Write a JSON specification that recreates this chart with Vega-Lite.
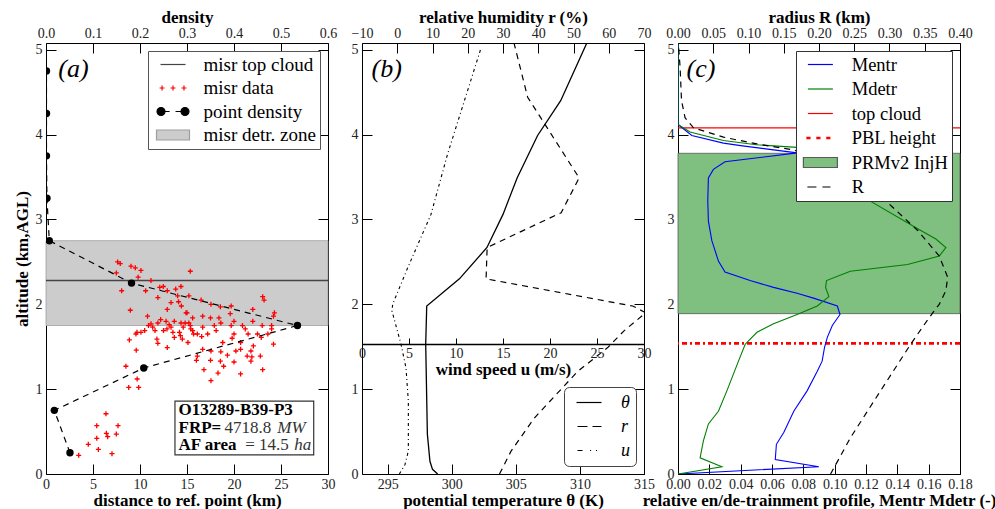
{
  "$schema": "https://vega.github.io/schema/vega-lite/v6.json",
  "background": "white",
  "padding": {"left": 12, "top": 7, "right": 5, "bottom": 5},
  "bounds": "flush",
  "spacing": 34,
  "resolve": {
    "scale": {"shape": "independent", "color": "independent", "fill": "independent", "stroke": "independent"},
    "legend": {"shape": "independent", "fill": "independent", "stroke": "independent"}
  },
  "datasets": {
    "misr": [
      {"d":3.48,"alt":0.22},{"d":4.5,"alt":0.35},{"d":5.4,"alt":0.57},{"d":5.4,"alt":0.42},{"d":5.57,"alt":0.29},{"d":6.38,"alt":0.71},{"d":6.42,"alt":0.48},{"d":6.56,"alt":0.44},{"d":7.02,"alt":0.24},{"d":7.48,"alt":0.47},{"d":7.66,"alt":0.57},
      {"d":7.62,"alt":2.5},{"d":7.9,"alt":2.48},{"d":7.48,"alt":2.37},{"d":8.05,"alt":2.16},{"d":9.04,"alt":2.45},{"d":9.5,"alt":2.43},{"d":10.1,"alt":2.4},{"d":9.8,"alt":2.32},{"d":8.97,"alt":1.93},{"d":10.6,"alt":2.16},{"d":11.17,"alt":2.28},{"d":12.48,"alt":2.21},{"d":12.1,"alt":2.2},{"d":11.9,"alt":2.08},{"d":12.9,"alt":2.16},{"d":13.3,"alt":2.02},{"d":12.9,"alt":1.94},{"d":13.8,"alt":2.18},{"d":14.36,"alt":2.21},{"d":14.0,"alt":2.1},{"d":14.1,"alt":2.03},{"d":14.4,"alt":1.98},{"d":15.35,"alt":2.39},{"d":15.2,"alt":2.1},{"d":14.9,"alt":1.9},{"d":16.5,"alt":2.05},{"d":17.55,"alt":2.0},{"d":16.67,"alt":1.86},{"d":18.55,"alt":1.97},{"d":19.7,"alt":1.98},{"d":19.6,"alt":1.89},{"d":22.0,"alt":1.94},{"d":23.05,"alt":2.09},{"d":23.2,"alt":2.05},{"d":24.3,"alt":1.9},{"d":24.2,"alt":1.86},{"d":23.0,"alt":1.75},{"d":24.0,"alt":1.75},{"d":24.0,"alt":1.71},{"d":24.2,"alt":1.53},{"d":22.9,"alt":1.61},{"d":22.0,"alt":1.8},{"d":21.2,"alt":1.71},{"d":20.9,"alt":1.75},{"d":20.0,"alt":1.8},{"d":19.7,"alt":1.75},{"d":19.8,"alt":1.6},{"d":20.7,"alt":1.55},{"d":20.7,"alt":1.47},{"d":20.7,"alt":1.18},{"d":21.8,"alt":1.45},{"d":21.9,"alt":1.38},{"d":21.8,"alt":1.33},{"d":22.8,"alt":1.39},{"d":23.05,"alt":1.23},{"d":22.06,"alt":1.51},{"d":18.6,"alt":1.44},{"d":18.55,"alt":1.33},{"d":18.9,"alt":1.27},{"d":19.3,"alt":1.4},{"d":20.0,"alt":1.32},{"d":18.8,"alt":1.55},{"d":18.4,"alt":1.84},{"d":17.9,"alt":1.75},{"d":17.5,"alt":1.84},{"d":17.55,"alt":1.45},{"d":17.5,"alt":1.34},{"d":17.55,"alt":1.1},{"d":18.3,"alt":1.19},{"d":16.8,"alt":1.23},{"d":16.67,"alt":1.47},{"d":16.56,"alt":1.62},{"d":16.1,"alt":1.39},{"d":16.0,"alt":1.34},{"d":16.67,"alt":1.73},{"d":15.35,"alt":1.75},{"d":15.4,"alt":1.71},{"d":15.2,"alt":1.78},{"d":15.1,"alt":1.55},{"d":14.36,"alt":1.78},{"d":14.2,"alt":1.67},{"d":14.3,"alt":1.63},{"d":14.5,"alt":1.59},{"d":13.65,"alt":1.8},{"d":13.3,"alt":1.73},{"d":12.87,"alt":1.71},{"d":12.77,"alt":1.8},{"d":12.2,"alt":1.82},{"d":11.9,"alt":1.78},{"d":11.9,"alt":1.54},{"d":12.9,"alt":1.49},{"d":13.65,"alt":1.61},{"d":11.17,"alt":1.77},{"d":10.9,"alt":1.75},{"d":10.8,"alt":1.86},{"d":10.5,"alt":1.69},{"d":10.1,"alt":1.67},{"d":9.68,"alt":1.67},{"d":9.57,"alt":1.65},{"d":8.87,"alt":1.58},{"d":9.6,"alt":1.46},{"d":8.5,"alt":1.27},{"d":9.7,"alt":1.12},{"d":8.8,"alt":1.02},{"d":9.86,"alt":1.02},{"d":15.6,"alt":1.84},{"d":15.0,"alt":1.9},{"d":15.7,"alt":1.65},{"d":11.8,"alt":1.59},
      {"d":11.35,"alt":1.73},{"d":11.6,"alt":1.69},{"d":12.5,"alt":1.69},{"d":13.1,"alt":1.76},{"d":13.5,"alt":1.67},{"d":14.6,"alt":1.73},{"d":14.8,"alt":1.78},{"d":15.6,"alt":1.69},{"d":16.1,"alt":1.65},{"d":17.2,"alt":1.65},{"d":18.1,"alt":1.69},{"d":18.6,"alt":1.78},{"d":20.0,"alt":1.65},{"d":21.5,"alt":1.65},{"d":21.4,"alt":1.39},{"d":22.5,"alt":1.65},{"d":23.6,"alt":1.65},{"d":20.2,"alt":1.45}
    ],
    "density": [
      {"den":0.051,"alt":0.25},{"den":0.0177,"alt":0.75},{"den":0.208,"alt":1.25},{"den":0.535,"alt":1.75},{"den":0.182,"alt":2.25},{"den":0.007,"alt":2.75},{"den":0.002,"alt":3.25},{"den":0.001,"alt":3.75},{"den":0.001,"alt":4.25},{"den":0.001,"alt":4.75}
    ],
    "theta": [
      {"th":310.6,"alt":5.1},{"th":308.5,"alt":4.4},{"th":306.7,"alt":3.99},{"th":305.1,"alt":3.49},{"th":304.0,"alt":3.06},{"th":302.75,"alt":2.67},{"th":300.6,"alt":2.3},{"th":298.05,"alt":1.98},{"th":297.97,"alt":1.53},{"th":298.1,"alt":0.47},{"th":298.3,"alt":0.15},{"th":298.5,"alt":0.055},{"th":298.9,"alt":0.0}
    ],
    "rh": [
      {"r":33.0,"alt":5.1},{"r":37.0,"alt":4.44},{"r":51.6,"alt":3.49},{"r":46.5,"alt":3.08},{"r":25.5,"alt":2.67},{"r":25.2,"alt":2.3},{"r":66.8,"alt":1.98},{"r":70.5,"alt":1.9},{"r":64.4,"alt":1.69},{"r":59.7,"alt":1.49},{"r":51.2,"alt":1.21},{"r":38.9,"alt":0.66},{"r":32.3,"alt":0.27},{"r":29.0,"alt":0.0}
    ],
    "wind": [
      {"u":12.66,"alt":5.02},{"u":9.1,"alt":3.77},{"u":7.34,"alt":3.06},{"u":4.86,"alt":2.43},{"u":3.26,"alt":2.0},{"u":3.19,"alt":1.92},{"u":4.15,"alt":1.53},{"u":4.68,"alt":1.25},{"u":4.93,"alt":0.86},{"u":4.93,"alt":0.27},{"u":4.57,"alt":0.11},{"u":3.97,"alt":0.0}
    ],
    "profiles": [
      {"p":"entr","m":0,"alt":5.08},{"p":"entr","m":0,"alt":4.12},{"p":"entr","m":0.0088,"alt":3.99},{"p":"entr","m":0.029,"alt":3.9},{"p":"entr","m":0.04,"alt":3.87},{"p":"entr","m":0.061,"alt":3.82},{"p":"entr","m":0.076,"alt":3.785},{"p":"entr","m":0.03,"alt":3.68},{"p":"entr","m":0.0226,"alt":3.59},{"p":"entr","m":0.0194,"alt":3.49},{"p":"entr","m":0.019,"alt":3.22},{"p":"entr","m":0.0194,"alt":2.98},{"p":"entr","m":0.0216,"alt":2.75},{"p":"entr","m":0.0258,"alt":2.51},{"p":"entr","m":0.03,"alt":2.38},{"p":"entr","m":0.046,"alt":2.28},{"p":"entr","m":0.061,"alt":2.2},{"p":"entr","m":0.076,"alt":2.13},{"p":"entr","m":0.087,"alt":2.07},{"p":"entr","m":0.1017,"alt":1.98},{"p":"entr","m":0.1034,"alt":1.88},{"p":"entr","m":0.0985,"alt":1.75},{"p":"entr","m":0.0953,"alt":1.61},{"p":"entr","m":0.0935,"alt":1.49},{"p":"entr","m":0.092,"alt":1.33},{"p":"entr","m":0.0889,"alt":1.21},{"p":"entr","m":0.0824,"alt":0.98},{"p":"entr","m":0.0739,"alt":0.74},{"p":"entr","m":0.0675,"alt":0.49},{"p":"entr","m":0.0628,"alt":0.35},{"p":"entr","m":0.0621,"alt":0.17},{"p":"entr","m":0.0899,"alt":0.086},{"p":"entr","m":0,"alt":0},
      {"p":"detr","m":0,"alt":5.08},{"p":"detr","m":0,"alt":4.12},{"p":"detr","m":0.0077,"alt":4.03},{"p":"detr","m":0.029,"alt":3.93},{"p":"detr","m":0.05,"alt":3.88},{"p":"detr","m":0.076,"alt":3.85},{"p":"detr","m":0.095,"alt":3.7},{"p":"detr","m":0.108,"alt":3.45},{"p":"detr","m":0.1187,"alt":3.26},{"p":"detr","m":0.153,"alt":2.89},{"p":"detr","m":0.1646,"alt":2.77},{"p":"detr","m":0.171,"alt":2.67},{"p":"detr","m":0.1668,"alt":2.57},{"p":"detr","m":0.1465,"alt":2.47},{"p":"detr","m":0.11,"alt":2.39},{"p":"detr","m":0.0948,"alt":2.28},{"p":"detr","m":0.0942,"alt":2.2},{"p":"detr","m":0.0963,"alt":2.09},{"p":"detr","m":0.0889,"alt":1.98},{"p":"detr","m":0.076,"alt":1.88},{"p":"detr","m":0.061,"alt":1.77},{"p":"detr","m":0.0504,"alt":1.67},{"p":"detr","m":0.0429,"alt":1.53},{"p":"detr","m":0.0386,"alt":1.33},{"p":"detr","m":0.0312,"alt":0.98},{"p":"detr","m":0.0258,"alt":0.74},{"p":"detr","m":0.0194,"alt":0.59},{"p":"detr","m":0.0162,"alt":0.39},{"p":"detr","m":0.0141,"alt":0.19},{"p":"detr","m":0.028,"alt":0.086},{"p":"detr","m":0,"alt":0}
    ],
    "radius": [
      {"R":0.0005,"alt":5.08},{"R":0.003,"alt":4.79},{"R":0.005,"alt":4.4},{"R":0.01,"alt":4.2},{"R":0.022,"alt":4.08},{"R":0.0645,"alt":3.97},{"R":0.112,"alt":3.89},{"R":0.164,"alt":3.82},{"R":0.22,"alt":3.65},{"R":0.26,"alt":3.45},{"R":0.2947,"alt":3.22},{"R":0.34,"alt":2.87},{"R":0.3705,"alt":2.57},{"R":0.3825,"alt":2.32},{"R":0.38,"alt":2.16},{"R":0.3705,"alt":2.0},{"R":0.356,"alt":1.84},{"R":0.33,"alt":1.53},{"R":0.278,"alt":0.86},{"R":0.2448,"alt":0.43},{"R":0.2164,"alt":0.0}
    ]
  },
  "hconcat": [
    {
      "width": 282,
      "height": 431,
      "layer": [
        {
          "data": {"values": [{"lo": 1.75, "hi": 2.75}]},
          "mark": {"type": "rect", "fill": "#cccccc", "stroke": "#9e9e9e", "strokeWidth": 0.8},
          "encoding": {
            "y": {"field": "lo", "type": "quantitative", "scale": {"domain": [0, 5.08], "nice": false, "zero": false},
                  "axis": {"orient": "left", "values": [0, 1, 2, 3, 4, 5], "title": "altitude (km,AGL)"}},
            "y2": {"field": "hi"}
          }
        },
        {
          "data": {"values": [{"alt": 2.28}]},
          "mark": {"type": "rule", "stroke": "#444444", "strokeWidth": 1.5},
          "encoding": {"y": {"field": "alt", "type": "quantitative", "axis": null}}
        },
        {
          "data": {"name": "misr"},
          "mark": {"type": "point", "shape": "M-1,0H1M0,-1V1", "size": 25, "filled": false, "stroke": "red", "strokeWidth": 1.3, "opacity": 1},
          "encoding": {
            "x": {"field": "d", "type": "quantitative", "scale": {"domain": [0, 30], "nice": false, "zero": false},
                  "axis": {"orient": "bottom", "values": [0, 5, 10, 15, 20, 25, 30], "title": "distance to ref. point (km)", "labelPadding": 13, "titlePadding": 1}},
            "y": {"field": "alt", "type": "quantitative", "axis": null}
          }
        },
        {
          "data": {"name": "density"},
          "mark": {"type": "line", "stroke": "black", "strokeWidth": 1.2, "strokeDash": [6, 5], "clip": true},
          "encoding": {
            "x": {"field": "den", "type": "quantitative", "scale": {"domain": [0, 0.6], "nice": false, "zero": false},
                  "axis": {"orient": "top", "values": [0, 0.1, 0.2, 0.3, 0.4, 0.5, 0.6], "format": ".1f", "title": "density", "labelPadding": 13, "titlePadding": 0}},
            "y": {"field": "alt", "type": "quantitative", "axis": {"orient": "right", "labels": false, "title": null, "values": [0, 1, 2, 3, 4, 5]}},
            "order": {"field": "alt", "type": "quantitative"}
          }
        },
        {
          "data": {"name": "density"},
          "mark": {"type": "point", "filled": true, "fill": "black", "size": 55, "opacity": 1, "clip": true},
          "encoding": {
            "x": {"field": "den", "type": "quantitative", "scale": {"domain": [0, 0.6], "nice": false, "zero": false}, "axis": null},
            "y": {"field": "alt", "type": "quantitative", "axis": null}
          }
        },
        {
          "data": {"values": [{"t": "(a)"}]},
          "mark": {"type": "text", "font": "Liberation Serif", "fontStyle": "italic", "fontSize": 26, "align": "left", "baseline": "middle"},
          "encoding": {
            "x": {"datum": 1.3, "type": "quantitative", "scale": {"domain": [0, 30], "nice": false, "zero": false}, "axis": null},
            "y": {"datum": 4.77, "type": "quantitative", "axis": null},
            "text": {"field": "t"}
          }
        },
        {
          "data": {"values": [{"t": "box"}]},
          "mark": {"type": "rect", "fill": "white", "stroke": "#333333", "strokeWidth": 1.2},
          "encoding": {
            "x": {"datum": 13.72, "type": "quantitative", "scale": {"domain": [0, 30], "nice": false, "zero": false}, "axis": null},
            "x2": {"datum": 28.48},
            "y": {"datum": 0.225, "type": "quantitative", "axis": null},
            "y2": {"datum": 0.86}
          }
        },
        {
          "data": {"values": [{"t": "O13289-B39-P3"}]},
          "mark": {"type": "text", "font": "Liberation Serif", "fontWeight": "bold", "fontSize": 17, "align": "left", "baseline": "middle"},
          "encoding": {"x": {"datum": 14.1, "type": "quantitative", "scale": {"domain": [0, 30], "nice": false, "zero": false}, "axis": null}, "y": {"datum": 0.75, "type": "quantitative", "axis": null}, "text": {"field": "t"}}
        },
        {
          "data": {"values": [{"t": "FRP="}]},
          "mark": {"type": "text", "font": "Liberation Serif", "fontWeight": "bold", "fontSize": 17, "align": "left", "baseline": "middle"},
          "encoding": {"x": {"datum": 14.1, "type": "quantitative", "scale": {"domain": [0, 30], "nice": false, "zero": false}, "axis": null}, "y": {"datum": 0.545, "type": "quantitative", "axis": null}, "text": {"field": "t"}}
        },
        {
          "data": {"values": [{"t": "4718.8"}]},
          "mark": {"type": "text", "font": "Liberation Serif", "fontSize": 17, "fill": "#333333", "align": "left", "baseline": "middle"},
          "encoding": {"x": {"datum": 19.0, "type": "quantitative", "scale": {"domain": [0, 30], "nice": false, "zero": false}, "axis": null}, "y": {"datum": 0.545, "type": "quantitative", "axis": null}, "text": {"field": "t"}}
        },
        {
          "data": {"values": [{"t": "MW"}]},
          "mark": {"type": "text", "font": "Liberation Serif", "fontStyle": "italic", "fontSize": 17, "fill": "#333333", "align": "left", "baseline": "middle"},
          "encoding": {"x": {"datum": 24.6, "type": "quantitative", "scale": {"domain": [0, 30], "nice": false, "zero": false}, "axis": null}, "y": {"datum": 0.545, "type": "quantitative", "axis": null}, "text": {"field": "t"}}
        },
        {
          "data": {"values": [{"t": "AF area"}]},
          "mark": {"type": "text", "font": "Liberation Serif", "fontWeight": "bold", "fontSize": 17, "align": "left", "baseline": "middle"},
          "encoding": {"x": {"datum": 14.1, "type": "quantitative", "scale": {"domain": [0, 30], "nice": false, "zero": false}, "axis": null}, "y": {"datum": 0.34, "type": "quantitative", "axis": null}, "text": {"field": "t"}}
        },
        {
          "data": {"values": [{"t": "= 14.5"}]},
          "mark": {"type": "text", "font": "Liberation Serif", "fontSize": 17, "fill": "#333333", "align": "left", "baseline": "middle"},
          "encoding": {"x": {"datum": 21.2, "type": "quantitative", "scale": {"domain": [0, 30], "nice": false, "zero": false}, "axis": null}, "y": {"datum": 0.34, "type": "quantitative", "axis": null}, "text": {"field": "t"}}
        },
        {
          "data": {"values": [{"t": "ha"}]},
          "mark": {"type": "text", "font": "Liberation Serif", "fontStyle": "italic", "fontSize": 17, "fill": "#333333", "align": "left", "baseline": "middle"},
          "encoding": {"x": {"datum": 26.4, "type": "quantitative", "scale": {"domain": [0, 30], "nice": false, "zero": false}, "axis": null}, "y": {"datum": 0.34, "type": "quantitative", "axis": null}, "text": {"field": "t"}}
        },
        {
          "data": {"values": []},
          "mark": {"type": "point", "opacity": 1},
          "encoding": {
            "shape": {
              "field": "series", "type": "nominal",
              "scale": {
                "domain": ["misr top cloud", "misr data", "point density", "misr detr. zone"],
                "range": [
                  "M-1.47,0H1.47",
                  "M-1.58,0H-1.0M-1.29,-0.29V0.29M-0.29,0H0.29M0,-0.29V0.29M1.0,0H1.58M1.29,-0.29V0.29",
                  "M-1.88,0A0.47,0.47 0 1,1 -0.94,0A0.47,0.47 0 1,1 -1.88,0ZM0.94,0A0.47,0.47 0 1,1 1.88,0A0.47,0.47 0 1,1 0.94,0ZM-1.41,0H-0.4M0.3,0H1.41",
                  "M-1.94,-0.59H1.94V0.59H-1.94Z"
                ]
              },
              "legend": {
                "title": null, "orient": "top-right", "offset": 8, "padding": 4,
                "strokeColor": "#555555", "fillColor": "white", "cornerRadius": 0,
                "symbolSize": 289, "symbolStrokeWidth": 1.2, "symbolOffset": 11.5, "labelOffset": 21, "rowPadding": 3.5,
                "symbolFillColor": "transparent", "symbolStrokeColor": "black", "symbolOpacity": 1,
                "labelFont": "Liberation Serif", "labelFontSize": 19, "labelColor": "black", "labelLimit": 400
              }
            },
            "fill": {
              "field": "series", "type": "nominal",
              "scale": {"domain": ["misr top cloud", "misr data", "point density", "misr detr. zone"], "range": ["transparent", "transparent", "black", "#cccccc"]},
              "legend": {"title": null}
            },
            "stroke": {
              "field": "series", "type": "nominal",
              "scale": {"domain": ["misr top cloud", "misr data", "point density", "misr detr. zone"], "range": ["#444444", "red", "black", "#9e9e9e"]},
              "legend": {"title": null}
            }
          }
        }
      ],
      "resolve": {"scale": {"x": "independent"}, "axis": {"x": "independent", "y": "independent"}}
    },
    {
      "width": 282,
      "height": 431,
      "layer": [
        {
          "data": {"name": "theta"},
          "mark": {"type": "line", "stroke": "black", "strokeWidth": 1.3, "clip": true},
          "encoding": {
            "x": {"field": "th", "type": "quantitative", "scale": {"domain": [293, 315], "nice": false, "zero": false},
                  "axis": {"orient": "bottom", "values": [295, 300, 305, 310, 315], "title": "potential temperature θ (K)", "labelPadding": 13, "titlePadding": 1}},
            "y": {"field": "alt", "type": "quantitative", "scale": {"domain": [0, 5.08], "nice": false, "zero": false},
                  "axis": {"orient": "left", "values": [0, 1, 2, 3, 4, 5], "title": null}},
            "order": {"field": "alt", "type": "quantitative"}
          }
        },
        {
          "data": {"name": "rh"},
          "mark": {"type": "line", "stroke": "black", "strokeWidth": 1.2, "strokeDash": [6, 5], "clip": true},
          "encoding": {
            "x": {"field": "r", "type": "quantitative", "scale": {"domain": [-10, 70], "nice": false, "zero": false},
                  "axis": {"orient": "top", "values": [-10, 0, 10, 20, 30, 40, 50, 60, 70], "title": "relative humidity r (%)", "labelPadding": 13, "titlePadding": 0}},
            "y": {"field": "alt", "type": "quantitative", "axis": {"orient": "right", "labels": false, "title": null, "values": [0, 1, 2, 3, 4, 5]}},
            "order": {"field": "alt", "type": "quantitative"}
          }
        },
        {
          "data": {"name": "wind"},
          "mark": {"type": "line", "stroke": "black", "strokeWidth": 1.1, "strokeDash": [3, 3, 1, 3], "clip": true},
          "encoding": {
            "x": {"field": "u", "type": "quantitative", "scale": {"domain": [0, 30], "nice": false, "zero": false},
                  "axis": {"orient": "bottom", "offset": -130, "values": [0, 5, 10, 15, 20, 25, 30], "title": "wind speed u (m/s)",
                           "domain": true, "domainColor": "black", "domainWidth": 1.3, "tickSize": -6, "labelPadding": 8, "titlePadding": 1}},
            "y": {"field": "alt", "type": "quantitative", "axis": null},
            "order": {"field": "alt", "type": "quantitative"}
          }
        },
        {
          "data": {"values": [{"t": "(b)"}]},
          "mark": {"type": "text", "font": "Liberation Serif", "fontStyle": "italic", "fontSize": 26, "align": "left", "baseline": "middle"},
          "encoding": {
            "x": {"datum": 293.75, "type": "quantitative", "scale": {"domain": [293, 315], "nice": false, "zero": false}, "axis": null},
            "y": {"datum": 4.77, "type": "quantitative", "axis": null},
            "text": {"field": "t"}
          }
        },
        {
          "data": {"values": []},
          "mark": {"type": "point", "opacity": 1},
          "encoding": {
            "shape": {
              "field": "series", "type": "nominal",
              "scale": {
                "domain": ["θ", "r", "u"],
                "range": [
                  "M-1.47,0H1.47",
                  "M-1.35,0H-0.18M0.41,0H1.47",
                  "M-1.35,0H-0.76M0.12,0H0.24M0.82,0H0.94"
                ]
              },
              "legend": {
                "title": null, "orient": "bottom-right", "offset": 8, "padding": 6,
                "strokeColor": "#444444", "fillColor": "white", "cornerRadius": 5,
                "symbolSize": 289, "symbolStrokeWidth": 1.2, "symbolOffset": 9.5, "labelOffset": 22.5, "rowPadding": 5,
                "symbolFillColor": "transparent", "symbolStrokeColor": "black", "symbolOpacity": 1,
                "labelFont": "Liberation Serif", "labelFontSize": 18, "labelFontStyle": "italic", "labelColor": "black"
              }
            }
          }
        }
      ],
      "resolve": {"scale": {"x": "independent"}, "axis": {"x": "independent", "y": "independent"}}
    },
    {
      "width": 282,
      "height": 431,
      "layer": [
        {
          "data": {"values": [{"lo": 1.89, "hi": 3.78}]},
          "mark": {"type": "rect", "fill": "#7fbf7f", "stroke": "#5a5a5a", "strokeWidth": 0.8},
          "encoding": {
            "y": {"field": "lo", "type": "quantitative", "scale": {"domain": [0, 5.08], "nice": false, "zero": false},
                  "axis": {"orient": "left", "values": [0, 1, 2, 3, 4, 5], "title": null}},
            "y2": {"field": "hi"}
          }
        },
        {
          "data": {"values": [{"alt": 4.08}]},
          "mark": {"type": "rule", "stroke": "red", "strokeWidth": 1.1},
          "encoding": {"y": {"field": "alt", "type": "quantitative", "axis": null}}
        },
        {
          "data": {"values": [{"alt": 1.54}]},
          "mark": {"type": "rule", "stroke": "red", "strokeWidth": 2.6, "strokeDash": [5, 3, 2, 3]},
          "encoding": {"y": {"field": "alt", "type": "quantitative", "axis": null}}
        },
        {
          "data": {"name": "profiles"},
          "mark": {"type": "line", "strokeWidth": 1.1, "clip": true},
          "encoding": {
            "x": {"field": "m", "type": "quantitative", "scale": {"domain": [0, 0.18], "nice": false, "zero": false},
                  "axis": {"orient": "bottom", "values": [0, 0.02, 0.04, 0.06, 0.08, 0.1, 0.12, 0.14, 0.16, 0.18], "format": ".2f",
                           "title": "relative en/de-trainment profile, Mentr Mdetr (-)", "labelPadding": 13, "titlePadding": 1}},
            "y": {"field": "alt", "type": "quantitative", "axis": null},
            "color": {"field": "p", "type": "nominal", "scale": {"domain": ["entr", "detr"], "range": ["#0000ff", "#008000"]}, "legend": null},
            "order": {"field": "alt", "type": "quantitative"}
          }
        },
        {
          "data": {"name": "radius"},
          "mark": {"type": "line", "stroke": "black", "strokeWidth": 1.2, "strokeDash": [6, 5], "clip": true},
          "encoding": {
            "x": {"field": "R", "type": "quantitative", "scale": {"domain": [0, 0.4], "nice": false, "zero": false},
                  "axis": {"orient": "top", "values": [0, 0.05, 0.1, 0.15, 0.2, 0.25, 0.3, 0.35, 0.4], "format": ".2f", "title": "radius R (km)", "labelPadding": 13, "titlePadding": 0}},
            "y": {"field": "alt", "type": "quantitative", "axis": {"orient": "right", "labels": false, "title": null, "values": [0, 1, 2, 3, 4, 5]}},
            "order": {"field": "alt", "type": "quantitative"}
          }
        },
        {
          "data": {"values": [{"t": "(c)"}]},
          "mark": {"type": "text", "font": "Liberation Serif", "fontStyle": "italic", "fontSize": 26, "align": "left", "baseline": "middle"},
          "encoding": {
            "x": {"datum": 0.0055, "type": "quantitative", "scale": {"domain": [0, 0.18], "nice": false, "zero": false}, "axis": null},
            "y": {"datum": 4.77, "type": "quantitative", "axis": null},
            "text": {"field": "t"}
          }
        },
        {
          "data": {"values": []},
          "mark": {"type": "point", "opacity": 1},
          "encoding": {
            "shape": {
              "field": "series", "type": "nominal",
              "scale": {
                "domain": ["Mentr", "Mdetr", "top cloud", "PBL height", "PRMv2 InjH", "R"],
                "range": [
                  "M-1.47,0H1.47",
                  "M-1.47,0H1.47",
                  "M-1.47,0H1.47",
                  "M-1.58,-0.08H-1.23V0.08H-1.58ZM-0.41,-0.08H-0.06V0.08H-0.41ZM0.76,-0.08H1.11V0.08H0.76Z",
                  "M-2,-0.59H2V0.59H-2Z",
                  "M-1.53,0H-0.47M0.24,0H1.18"
                ]
              },
              "legend": {
                "title": null, "orient": "top-right", "offset": 8, "padding": 4,
                "strokeColor": "#333333", "fillColor": "white", "cornerRadius": 0,
                "symbolSize": 289, "symbolStrokeWidth": 1.2, "symbolOffset": 10.9, "labelOffset": 21.8, "rowPadding": 5.5,
                "symbolFillColor": "transparent", "symbolStrokeColor": "black", "symbolOpacity": 1,
                "labelFont": "Liberation Serif", "labelFontSize": 18.5, "labelColor": "black", "labelLimit": 400
              }
            },
            "fill": {
              "field": "series", "type": "nominal",
              "scale": {"domain": ["Mentr", "Mdetr", "top cloud", "PBL height", "PRMv2 InjH", "R"], "range": ["transparent", "transparent", "transparent", "red", "#7fbf7f", "transparent"]},
              "legend": {"title": null}
            },
            "stroke": {
              "field": "series", "type": "nominal",
              "scale": {"domain": ["Mentr", "Mdetr", "top cloud", "PBL height", "PRMv2 InjH", "R"], "range": ["#0000ff", "#008000", "red", "red", "#5a5a5a", "black"]},
              "legend": {"title": null}
            }
          }
        }
      ],
      "resolve": {"scale": {"x": "independent"}, "axis": {"x": "independent", "y": "independent"}}
    }
  ],
  "config": {
    "view": {"stroke": "black", "strokeWidth": 1},
    "font": "Liberation Serif",
    "axis": {
      "grid": false, "domain": false, "ticks": true, "tickSize": -10, "tickColor": "black", "tickWidth": 1,
      "labelPadding": 14, "labelFont": "Liberation Serif", "labelFontSize": 14, "labelColor": "#222222",
      "labelFlush": false, "labelOverlap": false, "labelBound": false,
      "titleFont": "Liberation Serif", "titleFontSize": 17, "titleFontWeight": "bold", "titleColor": "black", "titlePadding": 4
    },
    "legend": {"labelFont": "Liberation Serif", "labelFontSize": 18, "labelColor": "black"}
  }
}
